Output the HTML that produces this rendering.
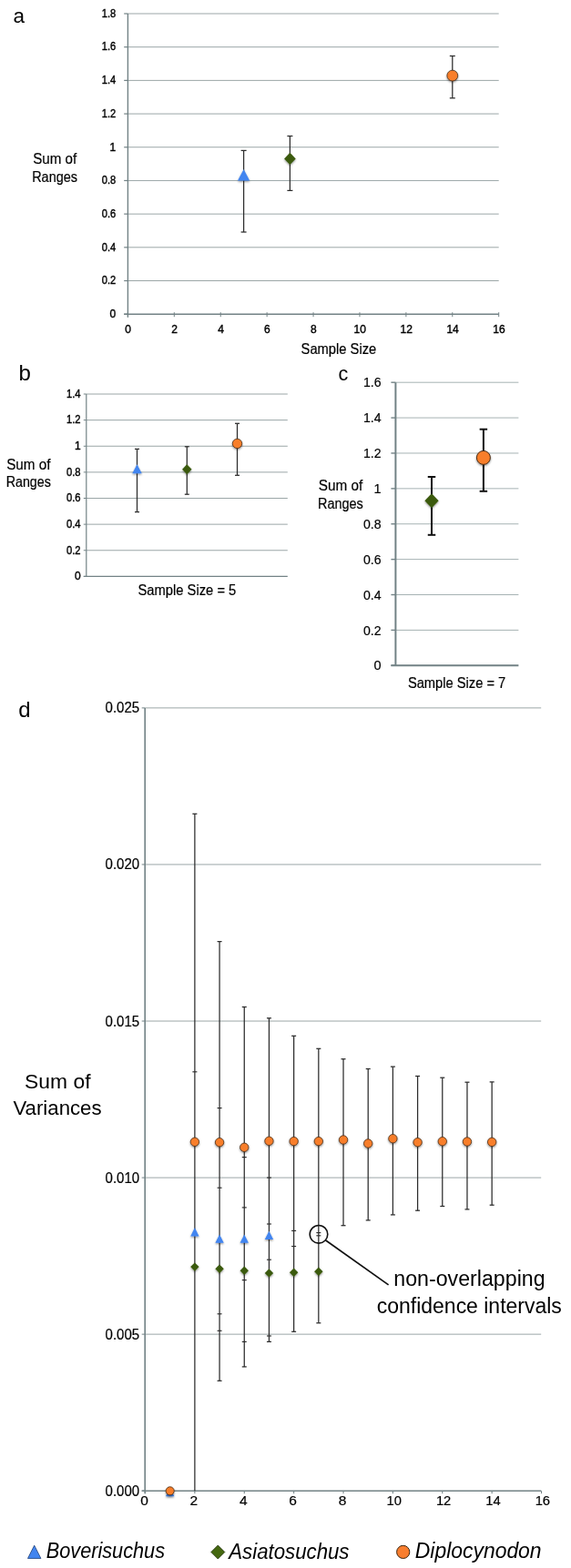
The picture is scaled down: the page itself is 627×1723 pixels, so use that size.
<!DOCTYPE html>
<html><head><meta charset="utf-8"><title>Figure</title>
<style>html,body{margin:0;padding:0;background:#fff}svg{display:block}text{font-family:"Liberation Sans", sans-serif;stroke:#000;stroke-width:.4px}text.m{stroke-width:.2px}text.n{stroke:none}</style>
</head><body>
<svg width="627" height="1723" viewBox="0 0 627 1723">
<defs><filter id="sh" x="-50%" y="-50%" width="200%" height="200%"><feDropShadow dx="0" dy="1.2" stdDeviation="1" flood-color="#000" flood-opacity="0.45"/></filter></defs>
<rect width="627" height="1723" fill="#fff"/>
<line x1="136.20" y1="345.20" x2="140.40" y2="345.20" stroke="#728285" stroke-width="1.2"/>
<text x="127.30" y="349.00" font-size="12" text-anchor="end" fill="#000">0</text>
<line x1="140.40" y1="308.51" x2="547.70" y2="308.51" stroke="#9ba6a7" stroke-width="1"/>
<line x1="136.20" y1="308.51" x2="140.40" y2="308.51" stroke="#728285" stroke-width="1.2"/>
<text x="127.30" y="312.31" font-size="12" text-anchor="end" textLength="15.5" lengthAdjust="spacingAndGlyphs" fill="#000">0.2</text>
<line x1="140.40" y1="271.82" x2="547.70" y2="271.82" stroke="#9ba6a7" stroke-width="1"/>
<line x1="136.20" y1="271.82" x2="140.40" y2="271.82" stroke="#728285" stroke-width="1.2"/>
<text x="127.30" y="275.62" font-size="12" text-anchor="end" textLength="15.5" lengthAdjust="spacingAndGlyphs" fill="#000">0.4</text>
<line x1="140.40" y1="235.13" x2="547.70" y2="235.13" stroke="#9ba6a7" stroke-width="1"/>
<line x1="136.20" y1="235.13" x2="140.40" y2="235.13" stroke="#728285" stroke-width="1.2"/>
<text x="127.30" y="238.93" font-size="12" text-anchor="end" textLength="15.5" lengthAdjust="spacingAndGlyphs" fill="#000">0.6</text>
<line x1="140.40" y1="198.44" x2="547.70" y2="198.44" stroke="#9ba6a7" stroke-width="1"/>
<line x1="136.20" y1="198.44" x2="140.40" y2="198.44" stroke="#728285" stroke-width="1.2"/>
<text x="127.30" y="202.24" font-size="12" text-anchor="end" textLength="15.5" lengthAdjust="spacingAndGlyphs" fill="#000">0.8</text>
<line x1="140.40" y1="161.76" x2="547.70" y2="161.76" stroke="#9ba6a7" stroke-width="1"/>
<line x1="136.20" y1="161.76" x2="140.40" y2="161.76" stroke="#728285" stroke-width="1.2"/>
<text x="127.30" y="165.56" font-size="12" text-anchor="end" fill="#000">1</text>
<line x1="140.40" y1="125.07" x2="547.70" y2="125.07" stroke="#9ba6a7" stroke-width="1"/>
<line x1="136.20" y1="125.07" x2="140.40" y2="125.07" stroke="#728285" stroke-width="1.2"/>
<text x="127.30" y="128.87" font-size="12" text-anchor="end" textLength="15.5" lengthAdjust="spacingAndGlyphs" fill="#000">1.2</text>
<line x1="140.40" y1="88.38" x2="547.70" y2="88.38" stroke="#9ba6a7" stroke-width="1"/>
<line x1="136.20" y1="88.38" x2="140.40" y2="88.38" stroke="#728285" stroke-width="1.2"/>
<text x="127.30" y="92.18" font-size="12" text-anchor="end" textLength="15.5" lengthAdjust="spacingAndGlyphs" fill="#000">1.4</text>
<line x1="140.40" y1="51.69" x2="547.70" y2="51.69" stroke="#9ba6a7" stroke-width="1"/>
<line x1="136.20" y1="51.69" x2="140.40" y2="51.69" stroke="#728285" stroke-width="1.2"/>
<text x="127.30" y="55.49" font-size="12" text-anchor="end" textLength="15.5" lengthAdjust="spacingAndGlyphs" fill="#000">1.6</text>
<line x1="140.40" y1="15.00" x2="547.70" y2="15.00" stroke="#9ba6a7" stroke-width="1"/>
<line x1="136.20" y1="15.00" x2="140.40" y2="15.00" stroke="#728285" stroke-width="1.2"/>
<text x="127.30" y="18.80" font-size="12" text-anchor="end" textLength="15.5" lengthAdjust="spacingAndGlyphs" fill="#000">1.8</text>
<line x1="140.40" y1="15.00" x2="140.40" y2="348.70" stroke="#728285" stroke-width="1.4"/>
<line x1="136.20" y1="345.20" x2="547.70" y2="345.20" stroke="#728285" stroke-width="1.4"/>
<line x1="140.40" y1="343.20" x2="140.40" y2="348.20" stroke="#728285" stroke-width="1"/>
<text x="140.70" y="365.80" font-size="12" text-anchor="middle" fill="#000">0</text>
<line x1="191.31" y1="343.20" x2="191.31" y2="348.20" stroke="#728285" stroke-width="1"/>
<text x="191.61" y="365.80" font-size="12" text-anchor="middle" fill="#000">2</text>
<line x1="242.23" y1="343.20" x2="242.23" y2="348.20" stroke="#728285" stroke-width="1"/>
<text x="242.53" y="365.80" font-size="12" text-anchor="middle" fill="#000">4</text>
<line x1="293.14" y1="343.20" x2="293.14" y2="348.20" stroke="#728285" stroke-width="1"/>
<text x="293.44" y="365.80" font-size="12" text-anchor="middle" fill="#000">6</text>
<line x1="344.05" y1="343.20" x2="344.05" y2="348.20" stroke="#728285" stroke-width="1"/>
<text x="344.35" y="365.80" font-size="12" text-anchor="middle" fill="#000">8</text>
<line x1="394.96" y1="343.20" x2="394.96" y2="348.20" stroke="#728285" stroke-width="1"/>
<text x="395.26" y="365.80" font-size="12" text-anchor="middle" fill="#000">10</text>
<line x1="445.88" y1="343.20" x2="445.88" y2="348.20" stroke="#728285" stroke-width="1"/>
<text x="446.18" y="365.80" font-size="12" text-anchor="middle" fill="#000">12</text>
<line x1="496.79" y1="343.20" x2="496.79" y2="348.20" stroke="#728285" stroke-width="1"/>
<text x="497.09" y="365.80" font-size="12" text-anchor="middle" fill="#000">14</text>
<line x1="547.70" y1="343.20" x2="547.70" y2="348.20" stroke="#728285" stroke-width="1"/>
<text x="548.00" y="365.80" font-size="12" text-anchor="middle" fill="#000">16</text>
<text x="36.20" y="179.60" font-size="16" text-anchor="start" textLength="48.0" lengthAdjust="spacingAndGlyphs" fill="#000" class="m">Sum of</text>
<text x="35.20" y="199.50" font-size="16" text-anchor="start" textLength="49.8" lengthAdjust="spacingAndGlyphs" fill="#000" class="m">Ranges</text>
<text x="330.60" y="388.70" font-size="16" text-anchor="start" textLength="82.6" lengthAdjust="spacingAndGlyphs" fill="#000" class="m">Sample Size</text>
<text x="14.40" y="24.80" font-size="22.5" text-anchor="start" fill="#000" class="n">a</text>
<line x1="267.60" y1="165.40" x2="267.60" y2="255.00" stroke="#2b2b2b" stroke-width="1.25"/>
<line x1="264.60" y1="165.40" x2="270.60" y2="165.40" stroke="#2b2b2b" stroke-width="1.25"/>
<line x1="264.60" y1="255.00" x2="270.60" y2="255.00" stroke="#2b2b2b" stroke-width="1.25"/>
<polygon points="267.60,186.10 274.20,198.50 261.00,198.50" fill="#4285f0" filter="url(#sh)"/>
<line x1="318.40" y1="149.50" x2="318.40" y2="209.40" stroke="#2b2b2b" stroke-width="1.25"/>
<line x1="315.40" y1="149.50" x2="321.40" y2="149.50" stroke="#2b2b2b" stroke-width="1.25"/>
<line x1="315.40" y1="209.40" x2="321.40" y2="209.40" stroke="#2b2b2b" stroke-width="1.25"/>
<polygon points="318.40,167.70 324.70,174.40 318.40,181.10 312.10,174.40" fill="#3a5a0c" filter="url(#sh)"/>
<line x1="496.80" y1="61.50" x2="496.80" y2="107.80" stroke="#2b2b2b" stroke-width="1.25"/>
<line x1="493.80" y1="61.50" x2="499.80" y2="61.50" stroke="#2b2b2b" stroke-width="1.25"/>
<line x1="493.80" y1="107.80" x2="499.80" y2="107.80" stroke="#2b2b2b" stroke-width="1.25"/>
<circle cx="496.80" cy="83.10" r="5.9" fill="#f87e2c" stroke="#4a2f18" stroke-width="0.8" filter="url(#sh)"/>
<line x1="91.80" y1="633.40" x2="94.80" y2="633.40" stroke="#728285" stroke-width="1"/>
<text x="88.60" y="637.20" font-size="12" text-anchor="end" fill="#000">0</text>
<line x1="94.80" y1="604.77" x2="315.80" y2="604.77" stroke="#9ba6a7" stroke-width="1"/>
<line x1="91.80" y1="604.77" x2="94.80" y2="604.77" stroke="#728285" stroke-width="1"/>
<text x="88.60" y="608.57" font-size="12" text-anchor="end" textLength="15.6" lengthAdjust="spacingAndGlyphs" fill="#000">0.2</text>
<line x1="94.80" y1="576.14" x2="315.80" y2="576.14" stroke="#9ba6a7" stroke-width="1"/>
<line x1="91.80" y1="576.14" x2="94.80" y2="576.14" stroke="#728285" stroke-width="1"/>
<text x="88.60" y="579.94" font-size="12" text-anchor="end" textLength="15.6" lengthAdjust="spacingAndGlyphs" fill="#000">0.4</text>
<line x1="94.80" y1="547.51" x2="315.80" y2="547.51" stroke="#9ba6a7" stroke-width="1"/>
<line x1="91.80" y1="547.51" x2="94.80" y2="547.51" stroke="#728285" stroke-width="1"/>
<text x="88.60" y="551.31" font-size="12" text-anchor="end" textLength="15.6" lengthAdjust="spacingAndGlyphs" fill="#000">0.6</text>
<line x1="94.80" y1="518.89" x2="315.80" y2="518.89" stroke="#9ba6a7" stroke-width="1"/>
<line x1="91.80" y1="518.89" x2="94.80" y2="518.89" stroke="#728285" stroke-width="1"/>
<text x="88.60" y="522.69" font-size="12" text-anchor="end" textLength="15.6" lengthAdjust="spacingAndGlyphs" fill="#000">0.8</text>
<line x1="94.80" y1="490.26" x2="315.80" y2="490.26" stroke="#9ba6a7" stroke-width="1"/>
<line x1="91.80" y1="490.26" x2="94.80" y2="490.26" stroke="#728285" stroke-width="1"/>
<text x="88.60" y="494.06" font-size="12" text-anchor="end" fill="#000">1</text>
<line x1="94.80" y1="461.63" x2="315.80" y2="461.63" stroke="#9ba6a7" stroke-width="1"/>
<line x1="91.80" y1="461.63" x2="94.80" y2="461.63" stroke="#728285" stroke-width="1"/>
<text x="88.60" y="465.43" font-size="12" text-anchor="end" textLength="15.6" lengthAdjust="spacingAndGlyphs" fill="#000">1.2</text>
<line x1="94.80" y1="433.00" x2="315.80" y2="433.00" stroke="#9ba6a7" stroke-width="1"/>
<line x1="91.80" y1="433.00" x2="94.80" y2="433.00" stroke="#728285" stroke-width="1"/>
<text x="88.60" y="436.80" font-size="12" text-anchor="end" textLength="15.6" lengthAdjust="spacingAndGlyphs" fill="#000">1.4</text>
<line x1="94.80" y1="433.00" x2="94.80" y2="633.40" stroke="#728285" stroke-width="1.2"/>
<line x1="91.80" y1="633.40" x2="315.80" y2="633.40" stroke="#728285" stroke-width="1.2"/>
<text x="7.20" y="516.30" font-size="16" text-anchor="start" textLength="48.3" lengthAdjust="spacingAndGlyphs" fill="#000" class="m">Sum of</text>
<text x="6.70" y="535.30" font-size="16" text-anchor="start" textLength="49.1" lengthAdjust="spacingAndGlyphs" fill="#000" class="m">Ranges</text>
<text x="151.50" y="653.60" font-size="16" text-anchor="start" textLength="107.8" lengthAdjust="spacingAndGlyphs" fill="#000" class="m">Sample Size = 5</text>
<text x="20.60" y="418.10" font-size="24" text-anchor="start" fill="#000" class="n">b</text>
<line x1="150.50" y1="493.40" x2="150.50" y2="562.60" stroke="#2b2b2b" stroke-width="1.25"/>
<line x1="148.00" y1="493.40" x2="153.00" y2="493.40" stroke="#2b2b2b" stroke-width="1.25"/>
<line x1="148.00" y1="562.60" x2="153.00" y2="562.60" stroke="#2b2b2b" stroke-width="1.25"/>
<polygon points="150.50,510.20 155.75,520.20 145.25,520.20" fill="#4285f0" filter="url(#sh)"/>
<line x1="205.30" y1="490.80" x2="205.30" y2="543.20" stroke="#2b2b2b" stroke-width="1.25"/>
<line x1="202.80" y1="490.80" x2="207.80" y2="490.80" stroke="#2b2b2b" stroke-width="1.25"/>
<line x1="202.80" y1="543.20" x2="207.80" y2="543.20" stroke="#2b2b2b" stroke-width="1.25"/>
<polygon points="205.30,510.30 210.50,515.80 205.30,521.30 200.10,515.80" fill="#3a5a0c" filter="url(#sh)"/>
<line x1="260.50" y1="465.30" x2="260.50" y2="522.30" stroke="#2b2b2b" stroke-width="1.25"/>
<line x1="258.00" y1="465.30" x2="263.00" y2="465.30" stroke="#2b2b2b" stroke-width="1.25"/>
<line x1="258.00" y1="522.30" x2="263.00" y2="522.30" stroke="#2b2b2b" stroke-width="1.25"/>
<circle cx="260.50" cy="487.40" r="5.2" fill="#f87e2c" stroke="#4a2f18" stroke-width="0.8" filter="url(#sh)"/>
<line x1="429.40" y1="731.30" x2="434.40" y2="731.30" stroke="#728285" stroke-width="1.4"/>
<text x="418.60" y="736.40" font-size="14.5" text-anchor="end" fill="#000" class="m">0</text>
<line x1="434.40" y1="692.41" x2="569.40" y2="692.41" stroke="#a6b2b3" stroke-width="1"/>
<line x1="429.40" y1="692.41" x2="434.40" y2="692.41" stroke="#728285" stroke-width="1.4"/>
<text x="418.60" y="697.51" font-size="14.5" text-anchor="end" textLength="19.6" lengthAdjust="spacingAndGlyphs" fill="#000" class="m">0.2</text>
<line x1="434.40" y1="653.52" x2="569.40" y2="653.52" stroke="#a6b2b3" stroke-width="1"/>
<line x1="429.40" y1="653.52" x2="434.40" y2="653.52" stroke="#728285" stroke-width="1.4"/>
<text x="418.60" y="658.62" font-size="14.5" text-anchor="end" textLength="19.6" lengthAdjust="spacingAndGlyphs" fill="#000" class="m">0.4</text>
<line x1="434.40" y1="614.64" x2="569.40" y2="614.64" stroke="#a6b2b3" stroke-width="1"/>
<line x1="429.40" y1="614.64" x2="434.40" y2="614.64" stroke="#728285" stroke-width="1.4"/>
<text x="418.60" y="619.74" font-size="14.5" text-anchor="end" textLength="19.6" lengthAdjust="spacingAndGlyphs" fill="#000" class="m">0.6</text>
<line x1="434.40" y1="575.75" x2="569.40" y2="575.75" stroke="#a6b2b3" stroke-width="1"/>
<line x1="429.40" y1="575.75" x2="434.40" y2="575.75" stroke="#728285" stroke-width="1.4"/>
<text x="418.60" y="580.85" font-size="14.5" text-anchor="end" textLength="19.6" lengthAdjust="spacingAndGlyphs" fill="#000" class="m">0.8</text>
<line x1="434.40" y1="536.86" x2="569.40" y2="536.86" stroke="#a6b2b3" stroke-width="1"/>
<line x1="429.40" y1="536.86" x2="434.40" y2="536.86" stroke="#728285" stroke-width="1.4"/>
<text x="418.60" y="541.96" font-size="14.5" text-anchor="end" fill="#000" class="m">1</text>
<line x1="434.40" y1="497.97" x2="569.40" y2="497.97" stroke="#a6b2b3" stroke-width="1"/>
<line x1="429.40" y1="497.97" x2="434.40" y2="497.97" stroke="#728285" stroke-width="1.4"/>
<text x="418.60" y="503.07" font-size="14.5" text-anchor="end" textLength="19.6" lengthAdjust="spacingAndGlyphs" fill="#000" class="m">1.2</text>
<line x1="434.40" y1="459.09" x2="569.40" y2="459.09" stroke="#a6b2b3" stroke-width="1"/>
<line x1="429.40" y1="459.09" x2="434.40" y2="459.09" stroke="#728285" stroke-width="1.4"/>
<text x="418.60" y="464.19" font-size="14.5" text-anchor="end" textLength="19.6" lengthAdjust="spacingAndGlyphs" fill="#000" class="m">1.4</text>
<line x1="434.40" y1="420.20" x2="569.40" y2="420.20" stroke="#a6b2b3" stroke-width="1"/>
<line x1="429.40" y1="420.20" x2="434.40" y2="420.20" stroke="#728285" stroke-width="1.4"/>
<text x="418.60" y="425.30" font-size="14.5" text-anchor="end" textLength="19.6" lengthAdjust="spacingAndGlyphs" fill="#000" class="m">1.6</text>
<line x1="434.40" y1="420.20" x2="434.40" y2="731.30" stroke="#728285" stroke-width="2"/>
<line x1="429.40" y1="731.30" x2="569.40" y2="731.30" stroke="#728285" stroke-width="2"/>
<text x="349.70" y="539.20" font-size="16" text-anchor="start" textLength="48.5" lengthAdjust="spacingAndGlyphs" fill="#000" class="m">Sum of</text>
<text x="349.00" y="558.70" font-size="16" text-anchor="start" textLength="49.8" lengthAdjust="spacingAndGlyphs" fill="#000" class="m">Ranges</text>
<text x="447.90" y="756.20" font-size="16" text-anchor="start" textLength="107.4" lengthAdjust="spacingAndGlyphs" fill="#000" class="m">Sample Size = 7</text>
<text x="371.40" y="418.00" font-size="21.5" text-anchor="start" fill="#000" class="n">c</text>
<line x1="474.00" y1="524.00" x2="474.00" y2="587.80" stroke="#111" stroke-width="2"/>
<line x1="469.75" y1="524.00" x2="478.25" y2="524.00" stroke="#111" stroke-width="2"/>
<line x1="469.75" y1="587.80" x2="478.25" y2="587.80" stroke="#111" stroke-width="2"/>
<polygon points="474.00,542.30 481.60,550.30 474.00,558.30 466.40,550.30" fill="#3a5a0c" filter="url(#sh)"/>
<line x1="530.90" y1="471.70" x2="530.90" y2="539.80" stroke="#111" stroke-width="2"/>
<line x1="526.65" y1="471.70" x2="535.15" y2="471.70" stroke="#111" stroke-width="2"/>
<line x1="526.65" y1="539.80" x2="535.15" y2="539.80" stroke="#111" stroke-width="2"/>
<circle cx="530.90" cy="502.90" r="7.5" fill="#f87e2c" stroke="#4a2f18" stroke-width="1" filter="url(#sh)"/>
<line x1="155.70" y1="1638.20" x2="159.20" y2="1638.20" stroke="#728285" stroke-width="1"/>
<text x="115.60" y="1643.70" font-size="15.8" text-anchor="start" textLength="37.6" lengthAdjust="spacingAndGlyphs" fill="#000" class="m">0.000</text>
<line x1="159.20" y1="1466.14" x2="594.20" y2="1466.14" stroke="#9ba6a7" stroke-width="1"/>
<line x1="155.70" y1="1466.14" x2="159.20" y2="1466.14" stroke="#728285" stroke-width="1"/>
<text x="115.60" y="1471.64" font-size="15.8" text-anchor="start" textLength="37.6" lengthAdjust="spacingAndGlyphs" fill="#000" class="m">0.005</text>
<line x1="159.20" y1="1294.08" x2="594.20" y2="1294.08" stroke="#9ba6a7" stroke-width="1"/>
<line x1="155.70" y1="1294.08" x2="159.20" y2="1294.08" stroke="#728285" stroke-width="1"/>
<text x="115.60" y="1299.58" font-size="15.8" text-anchor="start" textLength="37.6" lengthAdjust="spacingAndGlyphs" fill="#000" class="m">0.010</text>
<line x1="159.20" y1="1122.02" x2="594.20" y2="1122.02" stroke="#9ba6a7" stroke-width="1"/>
<line x1="155.70" y1="1122.02" x2="159.20" y2="1122.02" stroke="#728285" stroke-width="1"/>
<text x="115.60" y="1127.52" font-size="15.8" text-anchor="start" textLength="37.6" lengthAdjust="spacingAndGlyphs" fill="#000" class="m">0.015</text>
<line x1="159.20" y1="949.96" x2="594.20" y2="949.96" stroke="#9ba6a7" stroke-width="1"/>
<line x1="155.70" y1="949.96" x2="159.20" y2="949.96" stroke="#728285" stroke-width="1"/>
<text x="115.60" y="955.46" font-size="15.8" text-anchor="start" textLength="37.6" lengthAdjust="spacingAndGlyphs" fill="#000" class="m">0.020</text>
<line x1="159.20" y1="777.90" x2="594.20" y2="777.90" stroke="#9ba6a7" stroke-width="1"/>
<line x1="155.70" y1="777.90" x2="159.20" y2="777.90" stroke="#728285" stroke-width="1"/>
<text x="115.60" y="783.40" font-size="15.8" text-anchor="start" textLength="37.6" lengthAdjust="spacingAndGlyphs" fill="#000" class="m">0.025</text>
<line x1="159.20" y1="777.90" x2="159.20" y2="1641.20" stroke="#728285" stroke-width="1.6"/>
<line x1="155.70" y1="1638.20" x2="594.20" y2="1638.20" stroke="#728285" stroke-width="1.4"/>
<line x1="159.50" y1="1638.20" x2="159.50" y2="1641.20" stroke="#728285" stroke-width="1.1"/>
<text x="158.50" y="1654.30" font-size="15.5" text-anchor="middle" fill="#000" class="m">0</text>
<line x1="213.88" y1="1638.20" x2="213.88" y2="1641.20" stroke="#728285" stroke-width="1.1"/>
<text x="212.88" y="1654.30" font-size="15.5" text-anchor="middle" fill="#000" class="m">2</text>
<line x1="268.26" y1="1638.20" x2="268.26" y2="1641.20" stroke="#728285" stroke-width="1.1"/>
<text x="267.26" y="1654.30" font-size="15.5" text-anchor="middle" fill="#000" class="m">4</text>
<line x1="322.64" y1="1638.20" x2="322.64" y2="1641.20" stroke="#728285" stroke-width="1.1"/>
<text x="321.64" y="1654.30" font-size="15.5" text-anchor="middle" fill="#000" class="m">6</text>
<line x1="377.02" y1="1638.20" x2="377.02" y2="1641.20" stroke="#728285" stroke-width="1.1"/>
<text x="376.02" y="1654.30" font-size="15.5" text-anchor="middle" fill="#000" class="m">8</text>
<line x1="431.40" y1="1638.20" x2="431.40" y2="1641.20" stroke="#728285" stroke-width="1.1"/>
<text x="432.70" y="1654.30" font-size="15.5" text-anchor="middle" textLength="16.4" lengthAdjust="spacingAndGlyphs" fill="#000" class="m">10</text>
<line x1="485.78" y1="1638.20" x2="485.78" y2="1641.20" stroke="#728285" stroke-width="1.1"/>
<text x="487.08" y="1654.30" font-size="15.5" text-anchor="middle" textLength="16.4" lengthAdjust="spacingAndGlyphs" fill="#000" class="m">12</text>
<line x1="540.16" y1="1638.20" x2="540.16" y2="1641.20" stroke="#728285" stroke-width="1.1"/>
<text x="541.46" y="1654.30" font-size="15.5" text-anchor="middle" textLength="16.4" lengthAdjust="spacingAndGlyphs" fill="#000" class="m">14</text>
<line x1="594.54" y1="1638.20" x2="594.54" y2="1641.20" stroke="#728285" stroke-width="1.1"/>
<text x="595.84" y="1654.30" font-size="15.5" text-anchor="middle" textLength="16.4" lengthAdjust="spacingAndGlyphs" fill="#000" class="m">16</text>
<text x="27.10" y="1195.80" font-size="22.5" text-anchor="start" textLength="72.4" lengthAdjust="spacingAndGlyphs" fill="#000" class="n">Sum of</text>
<text x="14.40" y="1225.40" font-size="22.5" text-anchor="start" textLength="97.2" lengthAdjust="spacingAndGlyphs" fill="#000" class="n">Variances</text>
<text x="20.20" y="787.50" font-size="24" text-anchor="start" fill="#000" class="n">d</text>
<line x1="213.88" y1="894.30" x2="213.88" y2="1638.20" stroke="#2b2b2b" stroke-width="1.25"/>
<line x1="211.38" y1="894.30" x2="216.38" y2="894.30" stroke="#2b2b2b" stroke-width="1.25"/>
<line x1="211.38" y1="1177.80" x2="216.38" y2="1177.80" stroke="#2b2b2b" stroke-width="1.15"/>
<line x1="241.07" y1="1034.60" x2="241.07" y2="1517.30" stroke="#2b2b2b" stroke-width="1.25"/>
<line x1="238.57" y1="1034.60" x2="243.57" y2="1034.60" stroke="#2b2b2b" stroke-width="1.25"/>
<line x1="238.57" y1="1517.30" x2="243.57" y2="1517.30" stroke="#2b2b2b" stroke-width="1.25"/>
<line x1="238.57" y1="1217.60" x2="243.57" y2="1217.60" stroke="#2b2b2b" stroke-width="1.15"/>
<line x1="238.57" y1="1305.20" x2="243.57" y2="1305.20" stroke="#2b2b2b" stroke-width="1.15"/>
<line x1="238.57" y1="1443.80" x2="243.57" y2="1443.80" stroke="#2b2b2b" stroke-width="1.15"/>
<line x1="238.57" y1="1462.30" x2="243.57" y2="1462.30" stroke="#2b2b2b" stroke-width="1.15"/>
<line x1="268.26" y1="1106.50" x2="268.26" y2="1501.90" stroke="#2b2b2b" stroke-width="1.25"/>
<line x1="265.76" y1="1106.50" x2="270.76" y2="1106.50" stroke="#2b2b2b" stroke-width="1.25"/>
<line x1="265.76" y1="1501.90" x2="270.76" y2="1501.90" stroke="#2b2b2b" stroke-width="1.25"/>
<line x1="265.76" y1="1271.60" x2="270.76" y2="1271.60" stroke="#2b2b2b" stroke-width="1.15"/>
<line x1="265.76" y1="1326.90" x2="270.76" y2="1326.90" stroke="#2b2b2b" stroke-width="1.15"/>
<line x1="265.76" y1="1406.60" x2="270.76" y2="1406.60" stroke="#2b2b2b" stroke-width="1.15"/>
<line x1="265.76" y1="1474.40" x2="270.76" y2="1474.40" stroke="#2b2b2b" stroke-width="1.15"/>
<line x1="295.45" y1="1118.80" x2="295.45" y2="1474.40" stroke="#2b2b2b" stroke-width="1.25"/>
<line x1="292.95" y1="1118.80" x2="297.95" y2="1118.80" stroke="#2b2b2b" stroke-width="1.25"/>
<line x1="292.95" y1="1474.40" x2="297.95" y2="1474.40" stroke="#2b2b2b" stroke-width="1.25"/>
<line x1="292.95" y1="1294.10" x2="297.95" y2="1294.10" stroke="#2b2b2b" stroke-width="1.15"/>
<line x1="292.95" y1="1345.00" x2="297.95" y2="1345.00" stroke="#2b2b2b" stroke-width="1.15"/>
<line x1="292.95" y1="1384.20" x2="297.95" y2="1384.20" stroke="#2b2b2b" stroke-width="1.15"/>
<line x1="292.95" y1="1468.00" x2="297.95" y2="1468.00" stroke="#2b2b2b" stroke-width="1.15"/>
<line x1="322.64" y1="1138.30" x2="322.64" y2="1463.30" stroke="#2b2b2b" stroke-width="1.25"/>
<line x1="320.14" y1="1138.30" x2="325.14" y2="1138.30" stroke="#2b2b2b" stroke-width="1.25"/>
<line x1="320.14" y1="1463.30" x2="325.14" y2="1463.30" stroke="#2b2b2b" stroke-width="1.25"/>
<line x1="320.14" y1="1352.40" x2="325.14" y2="1352.40" stroke="#2b2b2b" stroke-width="1.15"/>
<line x1="320.14" y1="1369.50" x2="325.14" y2="1369.50" stroke="#2b2b2b" stroke-width="1.15"/>
<line x1="349.83" y1="1152.30" x2="349.83" y2="1453.80" stroke="#2b2b2b" stroke-width="1.25"/>
<line x1="347.33" y1="1152.30" x2="352.33" y2="1152.30" stroke="#2b2b2b" stroke-width="1.25"/>
<line x1="347.33" y1="1453.80" x2="352.33" y2="1453.80" stroke="#2b2b2b" stroke-width="1.25"/>
<line x1="347.33" y1="1354.60" x2="352.33" y2="1354.60" stroke="#2b2b2b" stroke-width="1.15"/>
<line x1="347.33" y1="1357.80" x2="352.33" y2="1357.80" stroke="#2b2b2b" stroke-width="1.15"/>
<line x1="377.02" y1="1163.70" x2="377.02" y2="1346.70" stroke="#2b2b2b" stroke-width="1.25"/>
<line x1="374.52" y1="1163.70" x2="379.52" y2="1163.70" stroke="#2b2b2b" stroke-width="1.25"/>
<line x1="374.52" y1="1346.70" x2="379.52" y2="1346.70" stroke="#2b2b2b" stroke-width="1.25"/>
<line x1="404.21" y1="1174.50" x2="404.21" y2="1340.90" stroke="#2b2b2b" stroke-width="1.25"/>
<line x1="401.71" y1="1174.50" x2="406.71" y2="1174.50" stroke="#2b2b2b" stroke-width="1.25"/>
<line x1="401.71" y1="1340.90" x2="406.71" y2="1340.90" stroke="#2b2b2b" stroke-width="1.25"/>
<line x1="431.40" y1="1172.10" x2="431.40" y2="1334.90" stroke="#2b2b2b" stroke-width="1.25"/>
<line x1="428.90" y1="1172.10" x2="433.90" y2="1172.10" stroke="#2b2b2b" stroke-width="1.25"/>
<line x1="428.90" y1="1334.90" x2="433.90" y2="1334.90" stroke="#2b2b2b" stroke-width="1.25"/>
<line x1="458.59" y1="1182.50" x2="458.59" y2="1330.20" stroke="#2b2b2b" stroke-width="1.25"/>
<line x1="456.09" y1="1182.50" x2="461.09" y2="1182.50" stroke="#2b2b2b" stroke-width="1.25"/>
<line x1="456.09" y1="1330.20" x2="461.09" y2="1330.20" stroke="#2b2b2b" stroke-width="1.25"/>
<line x1="485.78" y1="1184.20" x2="485.78" y2="1325.50" stroke="#2b2b2b" stroke-width="1.25"/>
<line x1="483.28" y1="1184.20" x2="488.28" y2="1184.20" stroke="#2b2b2b" stroke-width="1.25"/>
<line x1="483.28" y1="1325.50" x2="488.28" y2="1325.50" stroke="#2b2b2b" stroke-width="1.25"/>
<line x1="512.97" y1="1189.20" x2="512.97" y2="1328.90" stroke="#2b2b2b" stroke-width="1.25"/>
<line x1="510.47" y1="1189.20" x2="515.47" y2="1189.20" stroke="#2b2b2b" stroke-width="1.25"/>
<line x1="510.47" y1="1328.90" x2="515.47" y2="1328.90" stroke="#2b2b2b" stroke-width="1.25"/>
<line x1="540.16" y1="1188.90" x2="540.16" y2="1324.20" stroke="#2b2b2b" stroke-width="1.25"/>
<line x1="537.66" y1="1188.90" x2="542.66" y2="1188.90" stroke="#2b2b2b" stroke-width="1.25"/>
<line x1="537.66" y1="1324.20" x2="542.66" y2="1324.20" stroke="#2b2b2b" stroke-width="1.25"/>
<polygon points="213.88,1349.00 218.58,1358.40 209.18,1358.40" fill="#4285f0" filter="url(#sh)"/>
<polygon points="241.07,1356.40 245.77,1365.80 236.37,1365.80" fill="#4285f0" filter="url(#sh)"/>
<polygon points="268.26,1356.40 272.96,1365.80 263.56,1365.80" fill="#4285f0" filter="url(#sh)"/>
<polygon points="295.45,1352.70 300.15,1362.10 290.75,1362.10" fill="#4285f0" filter="url(#sh)"/>
<polygon points="213.88,1387.40 218.58,1392.10 213.88,1396.80 209.18,1392.10" fill="#3a5a0c" filter="url(#sh)"/>
<polygon points="241.07,1389.50 245.77,1394.20 241.07,1398.90 236.37,1394.20" fill="#3a5a0c" filter="url(#sh)"/>
<polygon points="268.26,1391.60 272.96,1396.30 268.26,1401.00 263.56,1396.30" fill="#3a5a0c" filter="url(#sh)"/>
<polygon points="295.45,1394.20 300.15,1398.90 295.45,1403.60 290.75,1398.90" fill="#3a5a0c" filter="url(#sh)"/>
<polygon points="322.64,1393.60 327.34,1398.30 322.64,1403.00 317.94,1398.30" fill="#3a5a0c" filter="url(#sh)"/>
<polygon points="349.83,1392.60 354.53,1397.30 349.83,1402.00 345.13,1397.30" fill="#3a5a0c" filter="url(#sh)"/>
<circle cx="213.88" cy="1254.80" r="4.7" fill="#f87e2c" stroke="#4a2f18" stroke-width="0.8" filter="url(#sh)"/>
<circle cx="241.07" cy="1255.20" r="4.7" fill="#f87e2c" stroke="#4a2f18" stroke-width="0.8" filter="url(#sh)"/>
<circle cx="268.26" cy="1260.80" r="4.7" fill="#f87e2c" stroke="#4a2f18" stroke-width="0.8" filter="url(#sh)"/>
<circle cx="295.45" cy="1253.80" r="4.7" fill="#f87e2c" stroke="#4a2f18" stroke-width="0.8" filter="url(#sh)"/>
<circle cx="322.64" cy="1254.10" r="4.7" fill="#f87e2c" stroke="#4a2f18" stroke-width="0.8" filter="url(#sh)"/>
<circle cx="349.83" cy="1254.10" r="4.7" fill="#f87e2c" stroke="#4a2f18" stroke-width="0.8" filter="url(#sh)"/>
<circle cx="377.02" cy="1252.50" r="4.7" fill="#f87e2c" stroke="#4a2f18" stroke-width="0.8" filter="url(#sh)"/>
<circle cx="404.21" cy="1256.50" r="4.7" fill="#f87e2c" stroke="#4a2f18" stroke-width="0.8" filter="url(#sh)"/>
<circle cx="431.40" cy="1251.20" r="4.7" fill="#f87e2c" stroke="#4a2f18" stroke-width="0.8" filter="url(#sh)"/>
<circle cx="458.59" cy="1255.20" r="4.7" fill="#f87e2c" stroke="#4a2f18" stroke-width="0.8" filter="url(#sh)"/>
<circle cx="485.78" cy="1254.20" r="4.7" fill="#f87e2c" stroke="#4a2f18" stroke-width="0.8" filter="url(#sh)"/>
<circle cx="512.97" cy="1254.50" r="4.7" fill="#f87e2c" stroke="#4a2f18" stroke-width="0.8" filter="url(#sh)"/>
<circle cx="540.16" cy="1254.90" r="4.7" fill="#f87e2c" stroke="#4a2f18" stroke-width="0.8" filter="url(#sh)"/>
<polygon points="186.69,1634.80 191.39,1644.20 181.99,1644.20" fill="#4285f0" filter="url(#sh)"/>
<circle cx="186.69" cy="1638.30" r="4.5" fill="#f87e2c" stroke="#4a2f18" stroke-width="0.8" filter="url(#sh)"/>
<circle cx="350.0" cy="1356.3" r="9.8" fill="none" stroke="#111" stroke-width="1.6"/>
<line x1="357.40" y1="1362.70" x2="426.60" y2="1411.90" stroke="#111" stroke-width="1.7"/>
<text x="432.30" y="1413.00" font-size="23" text-anchor="start" textLength="166.3" lengthAdjust="spacingAndGlyphs" fill="#000" class="n">non-overlapping</text>
<text x="413.80" y="1443.00" font-size="23" text-anchor="start" textLength="203.0" lengthAdjust="spacingAndGlyphs" fill="#000" class="n">confidence intervals</text>
<polygon points="37.70,1698.15 44.90,1712.45 30.50,1712.45" fill="#4285f0" stroke="#1d3f7a" stroke-width="0.8"/>
<text x="50.80" y="1712.00" font-size="23" text-anchor="start" textLength="130.2" lengthAdjust="spacingAndGlyphs" fill="#000" font-style="italic" class="n">Boverisuchus</text>
<polygon points="239.3,1698.0 246.8,1705.5 239.3,1713.0 231.8,1705.5" fill="#456810" stroke="#1c2c06" stroke-width="0.8"/>
<text x="251.30" y="1712.80" font-size="23" text-anchor="start" textLength="132.2" lengthAdjust="spacingAndGlyphs" fill="#000" font-style="italic" class="n">Asiatosuchus</text>
<circle cx="442.7" cy="1705.4" r="7.1" fill="#f87e2f" stroke="#3a2510" stroke-width="1"/>
<text x="455.80" y="1712.30" font-size="23" text-anchor="start" textLength="138.8" lengthAdjust="spacingAndGlyphs" fill="#000" font-style="italic" class="n">Diplocynodon</text>
</svg></body></html>
